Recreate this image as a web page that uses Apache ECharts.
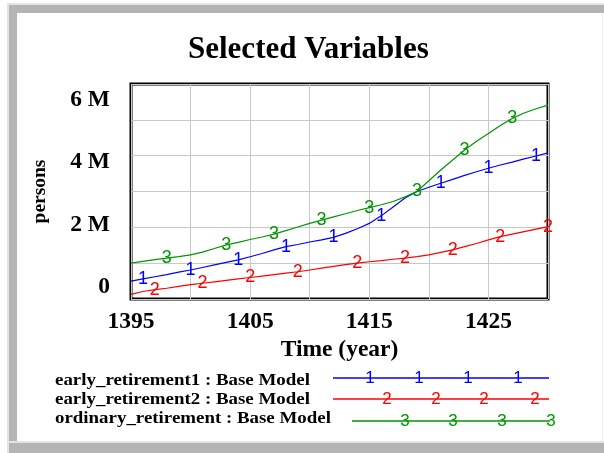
<!DOCTYPE html>
<html>
<head>
<meta charset="utf-8">
<style>
  html, body { margin: 0; padding: 0; background: #fff; }
  #chart { width: 604px; height: 453px; }
</style>
<script src="https://cdn.jsdelivr.net/npm/echarts@6/dist/echarts.min.js"></script>
</head>
<body>
<div id="chart"></div>
<script>
// simulation years
var years = [
  1395, 1396, 1397, 1398, 1399, 1400, 1401, 1402, 1403, 1404, 1405, 1406,
  1407, 1408, 1409, 1410, 1411, 1412, 1413, 1414, 1415, 1416, 1417, 1418,
  1419, 1420, 1421, 1422, 1423, 1424, 1425, 1426, 1427, 1428, 1429, 1430
]
// persons (millions)
var earlyRetirement1 = [
  0.50, 0.56, 0.62, 0.68, 0.75, 0.81, 0.88, 0.95, 1.02, 1.09, 1.18, 1.27,
  1.37, 1.46, 1.52, 1.59, 1.65, 1.72, 1.83, 1.96, 2.11, 2.32, 2.57, 2.82,
  3.00, 3.12, 3.23, 3.34, 3.45, 3.55, 3.65, 3.74, 3.82, 3.91, 3.99, 4.08
]
var earlyRetirement2 = [
  0.13, 0.21, 0.26, 0.30, 0.35, 0.40, 0.44, 0.48, 0.52, 0.56, 0.60, 0.64,
  0.68, 0.72, 0.76, 0.81, 0.86, 0.91, 0.96, 1.00, 1.04, 1.07, 1.11, 1.14,
  1.18, 1.23, 1.30, 1.37, 1.46, 1.55, 1.65, 1.74, 1.81, 1.88, 1.95, 2.02
]
var ordinaryRetirement = [
  1.00, 1.05, 1.10, 1.14, 1.18, 1.23, 1.31, 1.41, 1.51, 1.58, 1.66, 1.73,
  1.81, 1.91, 2.01, 2.11, 2.20, 2.29, 2.38, 2.47, 2.55, 2.63, 2.72, 2.85,
  3.00, 3.30, 3.60, 3.88, 4.16, 4.40, 4.62, 4.84, 5.04, 5.19, 5.31, 5.41
]
// years where the series number is drawn on the line
var marks1 = [1396, 1400, 1404, 1408, 1412, 1416, 1421, 1425, 1429]
var marks2 = [1397, 1401, 1405, 1409, 1414, 1418, 1422, 1426, 1430]
var marks3 = [1398, 1403, 1407, 1411, 1415, 1419, 1423, 1427]
var xTickLabels = [1395, 1405, 1415, 1425]
var yTickLabels = [0, 2e6, 4e6, 6e6]

var seriesNames = [
  'early_retirement1 : Base Model',
  'early_retirement2 : Base Model',
  'ordinary_retirement : Base Model'
]
var colors = ['#0000ff', '#ff0000', '#009600']

var serif = '"Liberation Serif", "Times New Roman", serif'
var markFont = '"Liberation Sans", Arial, sans-serif'

function buildData(values, marks) {
  return years.map(function (y, i) {
    var item = { value: [y, values[i] * 1e6] }
    if (marks.indexOf(y) >= 0) {
      item.label = { show: true }
    }
    return item
  })
}

function makeSeries(idx, values, marks) {
  return {
    name: seriesNames[idx],
    type: 'line',
    data: buildData(values, marks),
    symbol: 'circle',
    symbolSize: 1,
    showSymbol: true,
    showAllSymbol: true,
    itemStyle: { color: 'rgba(0,0,0,0)' },
    lineStyle: { color: colors[idx], width: 1.2 },
    label: {
      show: false,
      position: 'inside',
      formatter: String(idx + 1),
      color: colors[idx],
      fontSize: 18,
      fontFamily: markFont
    },
    emphasis: { disabled: true },
    silent: true
  }
}

// legend drawn at the bottom, like the original tool does
// (the source text is a little wider than it is tall, hence scaleX)
function legendGraphics() {
  var rows = [
    { y: 380, x0: 333, x1: 549, ly: 378, marks: [370, 419, 468, 518] },
    { y: 399, x0: 333, x1: 549, ly: 399, marks: [387, 436, 484, 535] },
    { y: 418, x0: 352, x1: 550, ly: 421, marks: [405, 453, 502, 551] }
  ]
  var out = []
  rows.forEach(function (r, i) {
    out.push({
      type: 'text', x: 55, y: r.y,
      scaleX: 1.08,
      style: {
        text: seriesNames[i], font: 'bold 17.5px ' + serif, fill: '#000',
        verticalAlign: 'middle'
      }
    })
    out.push({
      type: 'line',
      shape: { x1: r.x0, y1: r.ly, x2: r.x1, y2: r.ly },
      style: { stroke: colors[i], lineWidth: 1.5 }
    })
    r.marks.forEach(function (mx) {
      out.push({
        type: 'text', x: mx, y: r.ly,
        style: {
          text: String(i + 1), fill: colors[i],
          font: '17px ' + markFont,
          align: 'center', verticalAlign: 'middle'
        }
      })
    })
  })
  return out
}

var frame = [
  { type: 'rect', shape: { x: 7, y: 3, width: 597, height: 2 }, style: { fill: '#e4e4e4' } },
  { type: 'rect', shape: { x: 7, y: 3, width: 2, height: 450 }, style: { fill: '#e4e4e4' } },
  { type: 'rect', shape: { x: 9, y: 5, width: 595, height: 8 }, style: { fill: '#b4b4b4' } },
  { type: 'rect', shape: { x: 9, y: 5, width: 8, height: 448 }, style: { fill: '#b4b4b4' } },
  { type: 'rect', shape: { x: 9, y: 441, width: 595, height: 2 }, style: { fill: '#e4e4e4' } },
  { type: 'rect', shape: { x: 9, y: 443, width: 595, height: 10 }, style: { fill: '#b4b4b4' } },
  { type: 'rect', shape: { x: 602, y: 13, width: 1, height: 428 }, style: { fill: '#ececec' } }
]

var chart = echarts.init(document.getElementById('chart'))
chart.setOption({
  animation: false,
  backgroundColor: '#fff',
  title: {
    text: 'Selected Variables',
    left: 188,
    top: 34,
    padding: 0,
    textStyle: { fontFamily: serif, fontWeight: 'bold', fontSize: 31, color: '#000' }
  },
  grid: {
    left: 131, right: 56, top: 84, bottom: 154,
    show: true, borderColor: '#000', borderWidth: 3,
    backgroundColor: 'transparent'
  },
  xAxis: {
    type: 'value',
    min: 1395, max: 1430, interval: 5,
    name: 'Time (year)',
    nameLocation: 'middle',
    nameGap: 39,
    nameTextStyle: { fontFamily: serif, fontWeight: 'bold', fontSize: 23.5, color: '#000' },
    axisLine: { show: false },
    axisTick: { show: false },
    splitLine: { show: true, lineStyle: { color: '#c8c8c8', width: 1 } },
    axisLabel: {
      customValues: xTickLabels,
      margin: 11,
      formatter: function (v) { return String(v) },
      fontFamily: serif, fontWeight: 'bold', fontSize: 23.5, color: '#000'
    }
  },
  yAxis: [
    {
      type: 'value',
      min: 0, max: 6e6, interval: 1e6,
      axisLine: { show: false },
      axisTick: { show: false },
      axisLabel: { show: false },
      splitLine: { show: true, lineStyle: { color: '#c8c8c8', width: 1 } }
    },
    {
      // label placement of the source tool sits slightly inside the grid lines
      type: 'value',
      position: 'left',
      min: -385000, max: 6513000,
      name: 'persons',
      nameLocation: 'middle',
      nameRotate: 90,
      nameGap: 81,
      nameTextStyle: { fontFamily: serif, fontWeight: 'bold', fontSize: 19.5, color: '#000' },
      axisLine: { show: false },
      axisTick: { show: false },
      splitLine: { show: false },
      axisLabel: {
        customValues: yTickLabels,
        margin: 21,
        formatter: function (v) { return v === 0 ? '0' : (v / 1e6) + ' M' },
        fontFamily: serif, fontWeight: 'bold', fontSize: 23.5, color: '#000'
      }
    }
  ],
  series: [
    makeSeries(0, earlyRetirement1, marks1),
    makeSeries(1, earlyRetirement2, marks2),
    makeSeries(2, ordinaryRetirement, marks3)
  ],
  graphic: frame.concat(legendGraphics())
})
</script>
</body>
</html>
